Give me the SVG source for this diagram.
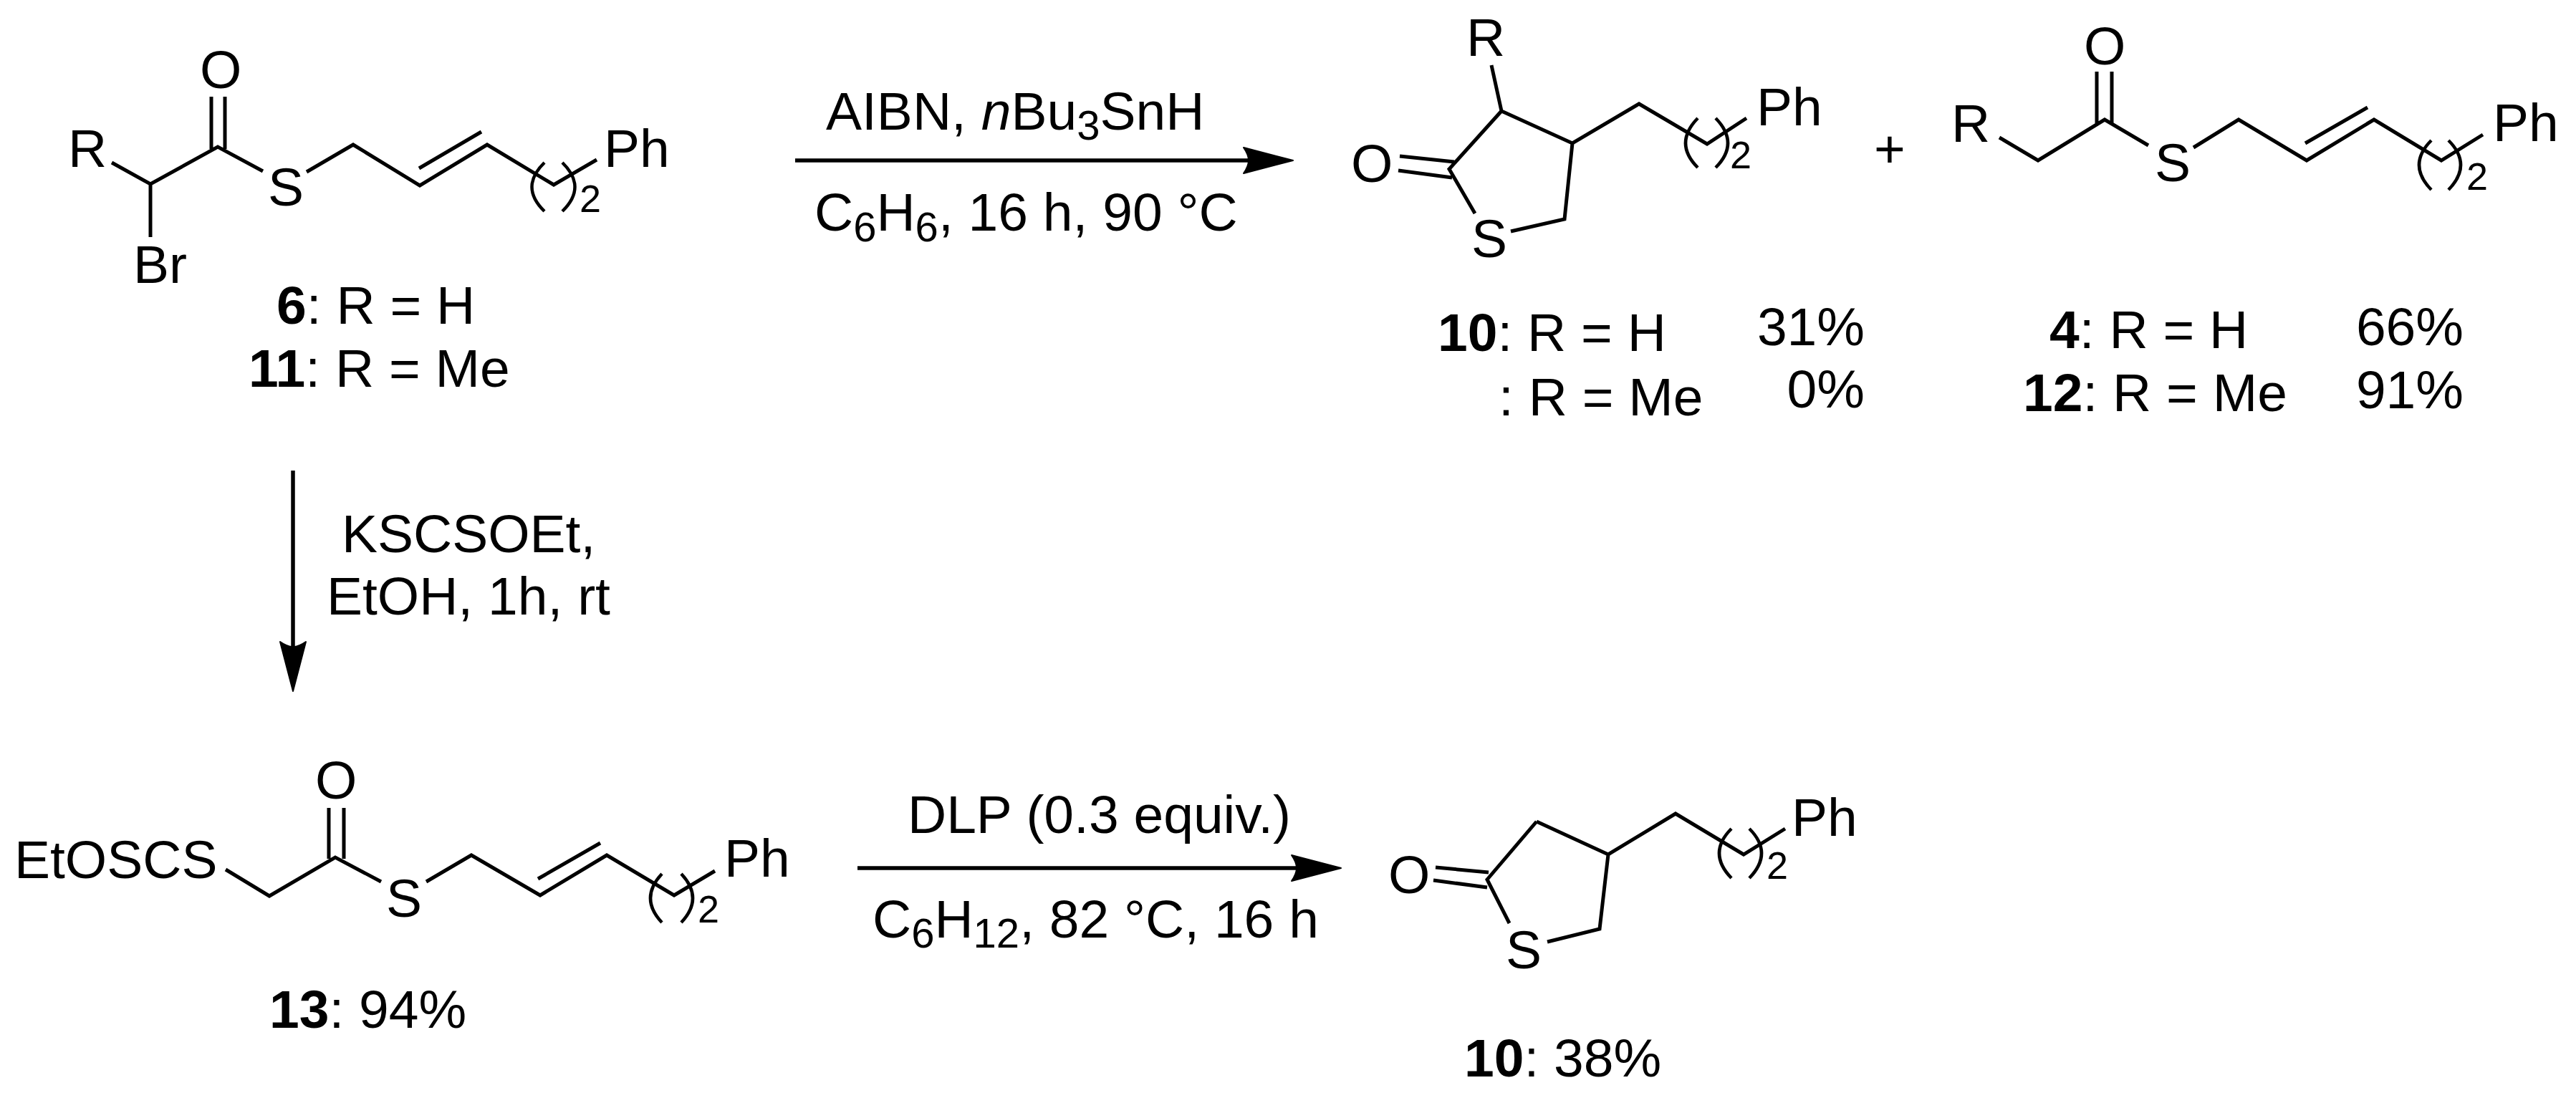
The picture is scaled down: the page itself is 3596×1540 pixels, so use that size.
<svg xmlns="http://www.w3.org/2000/svg" width="3596" height="1540" viewBox="0 0 3596 1540">
<style>
text{font-family:"Liberation Sans",Arial,sans-serif;font-size:75px;fill:#000}
.b{font-weight:700}
.i{font-style:italic}
.s{font-size:58px}
.n{font-size:54px}
.bond{fill:none;stroke:#000;stroke-width:5;stroke-linejoin:miter}
.par{fill:none;stroke:#000;stroke-width:4.5}
.arr{fill:none;stroke:#000;stroke-width:5.5;marker-end:url(#head)}
.e{text-anchor:end}
</style>
<defs>
<marker id="head" markerUnits="userSpaceOnUse" viewBox="-2 -21 76 42" markerWidth="76" markerHeight="42" refX="8" refY="0" orient="auto"><path d="M1,-18L70,0L1,18Q8,8 8,0Q8,-8 1,-18z" fill="#000" stroke="#000" stroke-width="2" stroke-linejoin="round"/></marker>
</defs>
<rect width="3596" height="1540" fill="#fff"/>
<g id="connectors">
<path class="arr" d="M1110,224H1743"/>
<path class="arr" d="M409,657V903"/>
<path class="arr" d="M1197,1212H1810"/>
</g>
<g id="mol-6">
<path class="bond" d="M156,227L210,257L304,205L367,239M210,257V331M428,240L493,202L586,259L680,202L773,258L833,223M585,235L672,184M295,135V208M314,135V208"/>
<path class="par" d="M760,227Q725,261 760,295M785,227Q820,261 785,295"/>
<text x="95" y="233">R</text><text x="279" y="123">O</text><text x="374" y="287">S</text><text x="186" y="395">Br</text><text x="843" y="233">Ph</text><text class="n" x="809" y="296">2</text>
<text x="386" y="452"><tspan class="b">6</tspan>: R = H</text>
<text x="347" y="540"><tspan class="b">11</tspan>: R = Me</text>
</g>
<g id="arrow-1-labels">
<text x="1153" y="181">AIBN, <tspan class="i">n</tspan>Bu<tspan class="s" dy="14">3</tspan><tspan dy="-14">SnH</tspan></text>
<text x="1137" y="322">C<tspan class="s" dy="15">6</tspan><tspan dy="-15">H</tspan><tspan class="s" dy="15">6</tspan><tspan dy="-15">, 16 h, 90 °C</tspan></text>
</g>
<g id="mol-10a">
<path class="bond" d="M2082,91L2096,155L2195,200L2288,145L2383,201L2438,165M2195,200L2184,306L2109,323M2059,298L2023,236L2096,155M1954,218L2030,226M1952,238L2027,248"/>
<path class="par" d="M2370,165Q2336,200 2370,234M2395,165Q2429,200 2395,234"/>
<text x="2047" y="78">R</text><text x="1886" y="254">O</text><text x="2054" y="359">S</text><text x="2452" y="175">Ph</text><text class="n" x="2415" y="235">2</text>
<text x="2007" y="490"><tspan class="b">10</tspan>: R = H</text>
<text x="2092" y="580">: R = Me</text>
<text class="e" x="2603" y="482">31%</text>
<text class="e" x="2603" y="569">0%</text>
</g>
<g id="plus"><text x="2616" y="234">+</text></g>
<g id="mol-4">
<path class="bond" d="M2791,192L2845,224L2938,167L2999,203M3062,206L3125,167L3220,224L3314,167L3408,224L3466,188M3218,200L3305,150M2927,100V172M2948,100V172"/>
<path class="par" d="M3394,196Q3360,230 3394,265M3418,196Q3452,230 3418,265"/>
<text x="2724" y="198">R</text><text x="2909" y="90">O</text><text x="3008" y="253">S</text><text x="3480" y="197">Ph</text><text class="n" x="3443" y="265">2</text>
<text x="2861" y="486"><tspan class="b">4</tspan>: R = H</text>
<text x="2824" y="574"><tspan class="b">12</tspan>: R = Me</text>
<text class="e" x="3439" y="482">66%</text>
<text class="e" x="3439" y="570">91%</text>
</g>
<g id="arrow-2-labels">
<text x="477" y="771">KSCSOEt,</text>
<text x="456" y="858">EtOH, 1h, rt</text>
</g>
<g id="mol-13">
<path class="bond" d="M315,1214L376,1251L468,1197L532,1231M595,1231L658,1194L754,1250L847,1194L941,1250L998,1216M751,1227L838,1177M459,1128V1199M480,1128V1199"/>
<path class="par" d="M924,1220Q892,1254 924,1288M951,1220Q983,1254 951,1288"/>
<text x="20" y="1226">EtOSCS</text><text x="440" y="1115">O</text><text x="539" y="1280">S</text><text x="1011" y="1224">Ph</text><text class="n" x="974" y="1288">2</text>
<text x="376" y="1435"><tspan class="b">13</tspan>: 94%</text>
</g>
<g id="arrow-3-labels">
<text x="1267" y="1163">DLP (0.3 equiv.)</text>
<text x="1218" y="1309">C<tspan class="s" dy="14">6</tspan><tspan dy="-14">H</tspan><tspan class="s" dy="14">12</tspan><tspan dy="-14">, 82 °C, 16 h</tspan></text>
</g>
<g id="mol-10b">
<path class="bond" d="M2145,1147L2245,1193L2339,1136L2434,1193L2492,1157M2245,1193L2233,1297L2160,1315M2107,1289L2076,1228L2145,1147M2004,1211L2078,1218M2001,1229L2076,1239"/>
<path class="par" d="M2417,1157Q2383,1191 2417,1226M2442,1157Q2476,1191 2442,1226"/>
<text x="1938" y="1247">O</text><text x="2102" y="1352">S</text><text x="2501" y="1167">Ph</text><text class="n" x="2466" y="1227">2</text>
<text x="2044" y="1503"><tspan class="b">10</tspan>: 38%</text>
</g>
</svg>
